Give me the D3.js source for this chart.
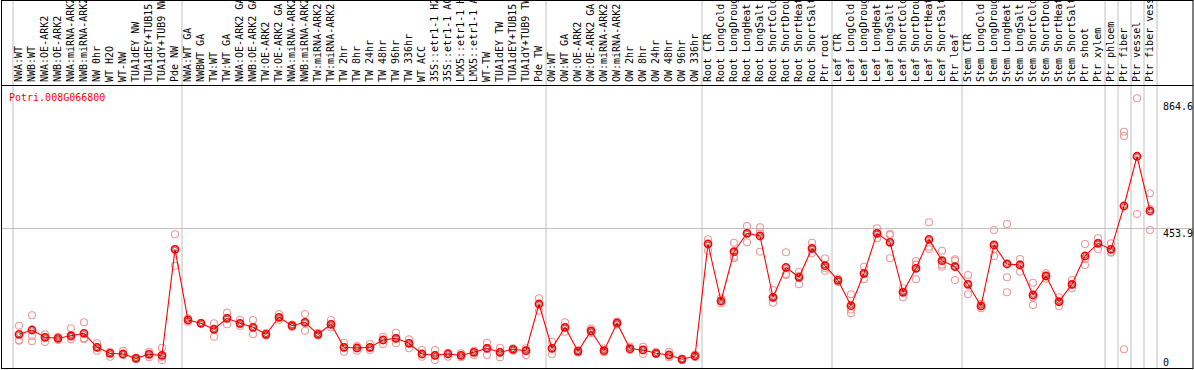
<!DOCTYPE html>
<html>
<head>
<meta charset="utf-8">
<script src="https://cdn.jsdelivr.net/npm/d3@7"></script>
<style>
  html, body { margin: 0; padding: 0; background: #fff; }
  svg { display: block; }
  text { font-family: "DejaVu Sans Mono", "Liberation Mono", monospace; font-size: 10px; }
</style>
</head>
<body>
<svg id="chart" width="1194" height="370"></svg>
<script>
const geneId = "Potri.008G066800";

const categories = [
  "NWA:WT","NWB:WT","NWA:OE-ARK2","NWB:OE-ARK2","NWA:miRNA-ARK2","NWB:miRNA-ARK2","NW 0hr","WT H2O","WT-NW",
  "TUA1dEY NW","TUA1dEY+TUB15","TUA1dY+TUB9 NW","Pde NW",
  "NWA:WT GA","NWBWT GA","TW:WT","TW:WT GA","NWA:OE-ARK2 GA","NWB:OE-ARK2 GA","TW:OE-ARK2","TW:OE-ARK2 GA",
  "NWA:miRNA-ARK2","NWB:miRNA-ARK2","TW:miRNA-ARK2","TW:miRNA-ARK2","TW 2hr","TW 8hr","TW 24hr","TW 48hr",
  "TW 96hr","TW 336hr","WT ACC","35S::etr1-1 H2O","35S::etr1-1 ACC","LMX5::etr1-1 H2O","LMX5::etr1-1 ACC",
  "WT-TW","TUA1dEY TW","TUA1dEY+TUB15","TUA1dY+TUB9 TW","Pde TW",
  "OW:WT","OW:WT GA","OW:OE-ARK2","OW:OE-ARK2 GA","OW:miRNA-ARK2","OW:miRNA-ARK2","OW 2hr","OW 8hr","OW 24hr",
  "OW 48hr","OW 96hr","OW 336hr",
  "Root CTR","Root LongCold","Root LongDrought","Root LongHeat","Root LongSalt","Root ShortCold","Root ShortDrought",
  "Root ShortHeat","Root ShortSalt","Ptr root",
  "Leaf CTR","Leaf LongCold","Leaf LongDrought","Leaf LongHeat","Leaf LongSalt","Leaf ShortCold","Leaf ShortDrought",
  "Leaf ShortHeat","Leaf ShortSalt","Ptr leaf",
  "Stem CTR","Stem LongCold","Stem LongDrought","Stem LongHeat","Stem LongSalt","Stem ShortCold","Stem ShortDrought",
  "Stem ShortHeat","Stem ShortSalt","Ptr shoot","Ptr xylem",
  "Ptr phloem","Ptr fiber","Ptr vessel","Ptr fiber vessel"
];

// index of first category of each group (separator lines drawn before these, plus the end)
const groupStarts = [0, 13, 41, 53, 63, 73, 84, 85, 86, 87, 88];

const means = [
  109.3,123.2,99.5,96.3,104.7,112.5,67.1,47.7,45.4,31.4,44.4,41.2,384.8,
  155.6,144.9,125.5,161.1,144.9,132.0,109.3,164.4,137.1,148.2,109.3,141.7,67.1,64.8,67.1,90.8,
  96.3,80.1,45.4,41.2,45.4,41.2,50.9,63.9,50.9,60.6,56.1,207.5,
  63.9,132.0,54.1,120.0,56.1,145.9,62.6,58.4,47.7,42.1,28.2,38.9,
  402.0,217.2,377.1,436.7,428.0,229.2,326.5,294.1,388.1,331.7,
  284.3,202.0,307.0,436.7,407.5,245.4,323.2,417.3,347.9,328.4,
  271.4,201.0,398.8,337.2,333.9,236.7,298.3,215.0,271.4,363.1,404.3,
  384.8,525.2,686.4,509.0
];

const replicates = [
  [137.1,90.8,88.5],[170.9,103.7,86.6],[109.3,84.3,99.5],[96.3,90.8,101],[128.7,93.0,100.5],[148.2,93.0,96.3],
  [80.1,56.1,67.1],[36.6,52.8,48.6],[56.1,42.1,45.4],[31.4,34.0,29],[52.8,34.7,45.4],[65.8,25.9,35.7],[433.5,331.7,386],
  [161.1,150.1,155.6],[144.9,144.9,145],[144.9,101.5,128],[179.3,141.7,162],[155.6,136.2,143],[155.6,109.3,131],
  [109.3,113.5,105.4],[175.1,155.6,163],[137.1,133,141],[175.1,120.9,148],[109.3,114,105],[155.6,132,142],
  [82.0,52.8,67],[71.3,56.1,65],[77.8,58.4,66],[101.5,77.8,91],[114.4,80.1,96],[93.0,63.9,81],[58.4,36.6,45],
  [58.4,25.9,41],[49.6,36.6,47],[47.7,34.7,41],[56.1,42.1,51],[82.0,42.1,65],[65.8,34.7,52],[63.9,56.1,60],
  [63.9,42.1,56],[226.0,185.8,207],
  [85.3,44.4,63],[148.2,117.7,132],[58.4,50.3,54],[128,113.5,119],[63,50.3,56],[150.8,141,146],[69.7,58.4,61.6],
  [69.1,45.4,58.4],[51.9,45.4,47.7],[52.8,34.7,42.1],[28.2,30.8,26],[43.8,35.7,38.9],
  [417.3,380.3,402],[226,209.8,217],[406.2,360.8,355.7],[460.4,407.5,437],[456.2,441.9,377.1],[252.9,211.7,228],
  [375.1,301.5,304.8],[312.2,271.4,298],[406.2,372.8,385.8],[355.7,315.5,324.2],
  [284.3,278.8,290.2],[238.9,177.3,189.7],[328.4,287.6,304.8],[452.9,420.5,436.7],[431.2,355.7,435.4],
  [258.4,229.2,248],[346.9,287.6,335],[472.4,393.3,385.8],[380.3,328.4,335],[352.4,285.3,347.9],
  [301.5,238.9,273.3],[201,193.6,208.5],[447.4,363.1,385.8],[466.9,294.1,245.4],[353.4,312.2,336.2],
  [276.6,204.3,229.2],[307,289.5,298.3],[229.2,201,215],[285.3,258.4,270],[402,333.9,353.4],[420.5,385.8,405.3],
  [404.3,373.8,376.1],[766.1,752.2,60.6],[874.4,499.3],[566.4,515.5,447.4]
];

const tickValues = [0, 453.9, 864.6];
const tickLabels = ["0", "453.9", "864.6"];
const gridValues = [453.9];

// ---------------- layout ----------------
const W = 1194, H = 370;
const plotLeft = 12.5, step = 13;
const plotRight = plotLeft + step * categories.length;
const headerY = 85.5, bottomY = 368.5;

const svg = d3.select("#chart");

const x = d3.scaleBand().domain(categories.map((c, i) => i)).range([plotLeft, plotRight]).padding(0);
const cx = i => x(i) + x.bandwidth() / 2;
const y = d3.scaleLinear().domain([0, 864.6]).range([368, 101.3]);

// horizontal gridline
svg.selectAll("line.grid").data(gridValues).join("line")
  .attr("x1", 1.5).attr("x2", 1193).attr("y1", d => Math.round(y(d)) + 0.5).attr("y2", d => Math.round(y(d)) + 0.5)
  .attr("stroke", "#c0c0c0").attr("stroke-width", 1);

// vertical group separators
svg.selectAll("line.sep").data(groupStarts).join("line")
  .attr("x1", d => Math.round(d === categories.length ? plotRight : x(d)))
  .attr("x2", d => Math.round(d === categories.length ? plotRight : x(d)))
  .attr("y1", 0).attr("y2", bottomY)
  .attr("stroke", "#c0c0c0").attr("stroke-width", 1);

// frame
svg.append("rect").attr("x", 1.5).attr("y", 0.5).attr("width", 1191.5).attr("height", 368)
  .attr("fill", "none").attr("stroke", "#000").attr("stroke-width", 1);
svg.append("line").attr("x1", 1.5).attr("x2", 1193).attr("y1", headerY).attr("y2", headerY)
  .attr("stroke", "#000").attr("stroke-width", 1);

// category labels
svg.append("g").selectAll("text").data(categories).join("text")
  .attr("transform", (d, i) => `translate(${cx(i) + 2.5},82) rotate(-90)`)
  .attr("text-anchor", "start")
  .attr("fill", "#000")
  .text(d => d);

// title
svg.append("text").attr("x", 9).attr("y", 101).attr("fill", "#ff0000").text(geneId);

// tick labels on right
svg.append("g").selectAll("text").data(tickValues).join("text")
  .attr("x", 1163)
  .attr("y", d => Math.min(y(d) + 9, 365.5))
  .attr("fill", "#000")
  .text((d, i) => tickLabels[i]);

// replicates
const repData = [];
replicates.forEach((arr, i) => arr.forEach(v => repData.push({ i, v })));
svg.append("g").selectAll("circle").data(repData).join("circle")
  .attr("cx", d => cx(d.i)).attr("cy", d => y(d.v)).attr("r", 3.5)
  .attr("fill", "none").attr("stroke", "#ee9999").attr("stroke-width", 1.1);

// mean line
svg.append("path").datum(means)
  .attr("d", d3.line().x((d, i) => cx(i)).y(d => y(d)))
  .attr("fill", "none").attr("stroke", "#ff0000").attr("stroke-width", 1.1);

// mean markers
const mg = svg.append("g");
mg.selectAll("circle.m").data(means).join("circle")
  .attr("cx", (d, i) => cx(i)).attr("cy", d => y(d)).attr("r", 3.6)
  .attr("fill", "none").attr("stroke", "#ff0000").attr("stroke-width", 1.6);
mg.selectAll("circle.in").data(means).join("circle")
  .attr("cx", (d, i) => cx(i)).attr("cy", d => y(d)).attr("r", 2.2)
  .attr("fill", "none").attr("stroke", "#550000").attr("stroke-width", 0.6);
</script>
</body>
</html>
